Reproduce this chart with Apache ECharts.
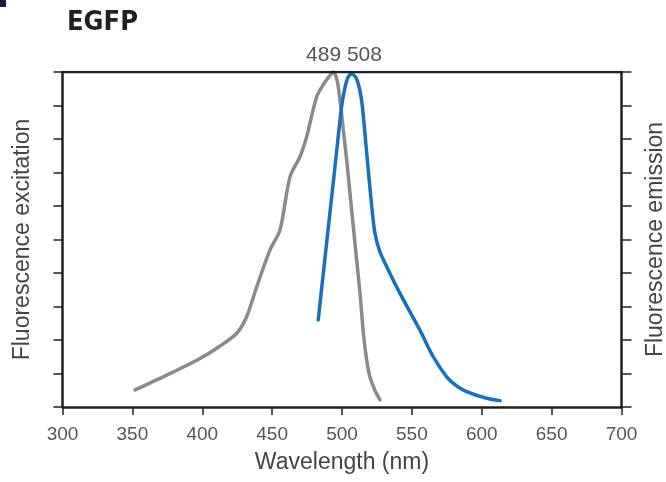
<!DOCTYPE html>
<html>
<head>
<meta charset="utf-8">
<script src="https://cdn.jsdelivr.net/npm/echarts@6/dist/echarts.min.js"></script>
<style>html,body{margin:0;padding:0;background:#fff}#c{width:666px;height:482px}</style>
</head>
<body>
<div id="c"></div>
<script>
const titleText = 'EGFP';
const peakLabels = [489, 508];
const xTicks = [300, 350, 400, 450, 500, 550, 600, 650, 700];
const excitationWl = [351.9, 375, 398.4, 412, 424.7, 431.8, 439.0, 448.5, 455.6, 462.8, 469.9, 474.7, 481.9, 487, 492.6, 493.8, 496.5, 498.6, 501, 503.4, 505.7, 508.1, 510.5, 512.9, 515.2, 517.5, 520.0, 523.5, 527.2];
const excitationVal = [5.1, 9.6, 14.5, 18.0, 22.0, 27.0, 35.9, 46.9, 52.8, 68.7, 74.7, 80.7, 92.6, 96.5, 99.6, 100, 97.5, 91.5, 82.5, 73.5, 63.8, 53.8, 43.8, 33.9, 22.5, 14.5, 9.0, 5, 2.1];
const emissionWl = [483.0, 489.0, 494.0, 497.5, 500.0, 502.2, 504.2, 506.9, 510.0, 512.5, 514.5, 517.7, 521.3, 523.6, 527, 532.0, 541.5, 555.8, 565.3, 574.9, 582, 589.2, 603.5, 613.1];
const emissionVal = [26.0, 49.0, 68.0, 81.5, 90.5, 95.5, 98.3, 99.4, 98.3, 95.0, 90.0, 75.7, 59.8, 51.8, 46.5, 41.9, 33.9, 22.9, 15.0, 9.0, 6.3, 4.6, 2.6, 1.9];

const excitation = excitationWl.map((w, i) => [w, excitationVal[i]]);
const emission = emissionWl.map((w, i) => [w, emissionVal[i]]);

const font = '"Liberation Sans", Arial, sans-serif';
const axisLineStyle = { color: '#231f20', width: 2.5 };
const chart = echarts.init(document.getElementById('c'), null, { renderer: 'canvas' });
chart.setOption({
  animation: false,
  backgroundColor: '#fff',
  title: [
    { text: titleText, left: 62, top: 4,
      textStyle: { fontFamily: '"Liberation Sans Narrow", "DejaVu Sans Condensed", sans-serif', fontWeight: 'bold', fontSize: 27, color: '#231f20' } },
    { text: peakLabels.join(' '), left: 339, top: 40, textAlign: 'center',
      textStyle: { fontFamily: font, fontWeight: 'normal', fontSize: 21, color: '#555' } }
  ],
  graphic: [
    { type: 'rect', left: 0, top: 0, shape: { width: 6, height: 7 }, style: { fill: '#1c1c3a' } }
  ],
  grid: { left: 62.5, right: 44.5, top: 72, bottom: 75, outerBoundsMode: 'none', containLabel: false },
  xAxis: {
    type: 'value', min: 300, max: 700, interval: 50,
    name: 'Wavelength (nm)', nameLocation: 'middle', nameGap: 44,
    nameTextStyle: { fontFamily: font, fontSize: 23, color: '#444' },
    axisLine: { lineStyle: axisLineStyle },
    axisTick: { show: true, length: 8, inside: false, lineStyle: { color: '#231f20', width: 1.5 } },
    axisLabel: { fontFamily: font, fontSize: 19, color: '#555', margin: 18,
      formatter: v => xTicks.includes(v) ? String(v) : '' },
    splitLine: { show: false }
  },
  yAxis: [
    { type: 'value', min: 0, max: 100, interval: 10, position: 'left',
      name: 'Fluorescence excitation', nameLocation: 'middle', nameRotate: 90, nameGap: 28,
      nameTextStyle: { fontFamily: font, fontSize: 23, color: '#444' },
      axisLine: { show: true, lineStyle: axisLineStyle },
      axisTick: { show: true, length: 9, lineStyle: { color: '#231f20', width: 1.5 } },
      axisLabel: { show: false }, splitLine: { show: false } },
    { type: 'value', min: 0, max: 100, interval: 10, position: 'right',
      name: 'Fluorescence emission', nameLocation: 'middle', nameRotate: 90, nameGap: 23,
      nameTextStyle: { fontFamily: font, fontSize: 23, color: '#444' },
      axisLine: { show: true, lineStyle: axisLineStyle },
      axisTick: { show: true, length: 10, lineStyle: { color: '#231f20', width: 1.5 } },
      axisLabel: { show: false }, splitLine: { show: false } }
  ],
  series: [
    { type: 'line', name: 'excitation', data: excitation, yAxisIndex: 0, smooth: 0.3, symbol: 'none',
      lineStyle: { color: '#8a8a8a', width: 3.5, cap: 'round' }, z: 3 },
    { type: 'line', name: 'emission', data: emission, yAxisIndex: 1, smooth: 0.3, symbol: 'none',
      lineStyle: { color: '#1570bf', width: 3.5, cap: 'round' }, z: 4 },
    { type: 'line', data: [[300, 100], [700, 100]], symbol: 'none', silent: true,
      lineStyle: { color: '#231f20', width: 2.5 }, z: 5 }
  ]
});
</script>
</body>
</html>
